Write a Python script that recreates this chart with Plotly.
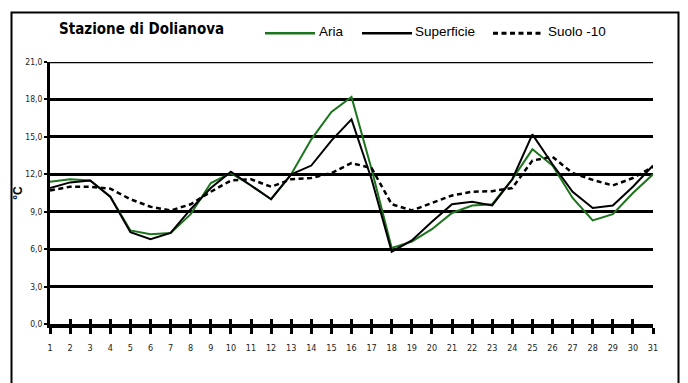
import plotly.graph_objects as go

# Daily mean temperatures (°C) for the month, station of Dolianova
days = list(range(1, 32))
aria = [11.4, 11.6, 11.5, 10.2, 7.5, 7.2, 7.3, 8.8, 11.3, 12.1,
        11.1, 10.0, 12.0, 14.8, 17.0, 18.2, 12.4, 6.1, 6.6, 7.6,
        8.9, 9.5, 9.6, 11.6, 14.0, 12.7, 10.1, 8.3, 8.8, 10.5, 12.0]
superficie = [10.9, 11.35, 11.5, 10.2, 7.35, 6.8, 7.3, 9.2, 10.9, 12.2,
              11.1, 10.0, 12.0, 12.7, 14.7, 16.4, 11.6, 5.8, 6.7, 8.2,
              9.6, 9.8, 9.5, 11.6, 15.2, 12.8, 10.6, 9.3, 9.5, 11.0, 12.7]
suolo = [10.7, 11.0, 11.0, 10.85, 10.0, 9.4, 9.1, 9.6, 10.6, 11.5,
         11.6, 11.0, 11.6, 11.7, 12.1, 12.9, 12.5, 9.6, 9.1, 9.7,
         10.3, 10.6, 10.65, 10.9, 13.1, 13.4, 12.1, 11.55, 11.1, 11.7, 12.6]
y_ticks = [0, 3, 6, 9, 12, 15, 18, 21]

W, H = 688, 383
ML, MR, MT, MB = 50, 35, 62, 59
PW, PH = W - ML - MR, H - MT - MB

NARROW = ("DejaVu Sans Condensed, Liberation Sans Narrow, Arial Narrow, "
          "Liberation Sans, Arial, sans-serif")
SANS = "Liberation Sans, Arial, sans-serif"
GREEN = "#1C741C"

series = [
    dict(name="Aria", y=aria, color=GREEN, width=2, dash="solid"),
    dict(name="Superficie", y=superficie, color="black", width=2, dash="solid"),
    dict(name="Suolo -10", y=suolo, color="black", width=2.5, dash="5px,3.5px"),
]


def px_x(px):
    return (px - ML) / PW


def px_y(py):
    return (H - MB - py) / PH


fig = go.Figure()
for s in series:
    fig.add_trace(go.Scatter(
        x=days, y=s["y"], name=s["name"], mode="lines",
        line=dict(color=s["color"], width=s["width"], dash=s["dash"]),
        showlegend=False,
    ))

# helper trace so the overlay axis (inner tick marks) gets drawn
fig.add_trace(go.Scatter(x=days, y=aria, xaxis="x2", mode="lines",
                         line=dict(width=0), opacity=0,
                         showlegend=False, hoverinfo="skip"))

shapes = [
    # outer frame
    dict(type="rect", xref="paper", yref="paper",
         x0=px_x(11.5), x1=px_x(678.5), y0=px_y(390), y1=px_y(12.5),
         line=dict(color="black", width=2), layer="below"),
    # top gridline at the upper end of the value axis
    dict(type="line", xref="paper", yref="y", x0=0, x1=1,
         y0=y_ticks[-1], y1=y_ticks[-1],
         line=dict(color="black", width=2.5), layer="below"),
]
annotations = [
    dict(text="<b>Stazione di Dolianova</b>", xref="paper", yref="paper",
         x=px_x(57), y=px_y(29.5), xanchor="left", yanchor="middle",
         showarrow=False, font=dict(family=NARROW, size=15, color="black")),
]

# legend: sample line followed by the series name
legend_pos = [(265, 315, 317), (362, 412, 413), (493, 542, 546)]
for s, (lx0, lx1, tx) in zip(series, legend_pos):
    shapes.append(dict(type="line", xref="paper", yref="paper",
                       x0=px_x(lx0), x1=px_x(lx1), y0=px_y(33.3), y1=px_y(33.3),
                       line=dict(color=s["color"], width=s["width"] + 0.5,
                                 dash=s["dash"])))
    annotations.append(dict(text=s["name"], xref="paper", yref="paper",
                            x=px_x(tx), y=px_y(31.5), xanchor="left",
                            yanchor="middle", showarrow=False,
                            font=dict(family=SANS, size=13.5, color="black")))

fig.update_layout(
    width=W, height=H, autosize=False,
    margin=dict(l=ML, r=MR, t=MT, b=MB, pad=0),
    paper_bgcolor="white", plot_bgcolor="white",
    separators=",.",
    showlegend=False,
    shapes=shapes, annotations=annotations,
    xaxis=dict(
        range=[1, 31], tickmode="array", tickvals=days,
        ticktext=[str(d) for d in days],
        showgrid=False, zeroline=False,
        showline=True, linecolor="black", linewidth=3.5,
        ticks="outside", ticklen=6, tickwidth=2.5, tickcolor="black",
        ticklabelstandoff=6,
        tickfont=dict(family=NARROW, size=9, color="#222"),
        fixedrange=True,
    ),
    xaxis2=dict(
        overlaying="x", anchor="y", side="bottom", matches="x",
        range=[1, 31], tickmode="array", tickvals=days,
        showticklabels=False, showgrid=False, zeroline=False,
        showline=False, ticks="inside", ticklen=5, tickwidth=2.5,
        tickcolor="black",
    ),
    yaxis=dict(
        range=[0, 21], tickmode="array", tickvals=y_ticks,
        tickformat=".1f",
        showgrid=True, gridcolor="black", gridwidth=2.5,
        zeroline=False,
        showline=True, linecolor="black", linewidth=3,
        ticks="outside", ticklen=3, tickwidth=2, tickcolor="black",
        tickfont=dict(family=NARROW, size=8.5, color="#222"),
        title=dict(text="<b>°C</b>", standoff=1,
                   font=dict(family=SANS, size=12, color="black")),
        fixedrange=True,
    ),
)

fig.write_html("out.html")
